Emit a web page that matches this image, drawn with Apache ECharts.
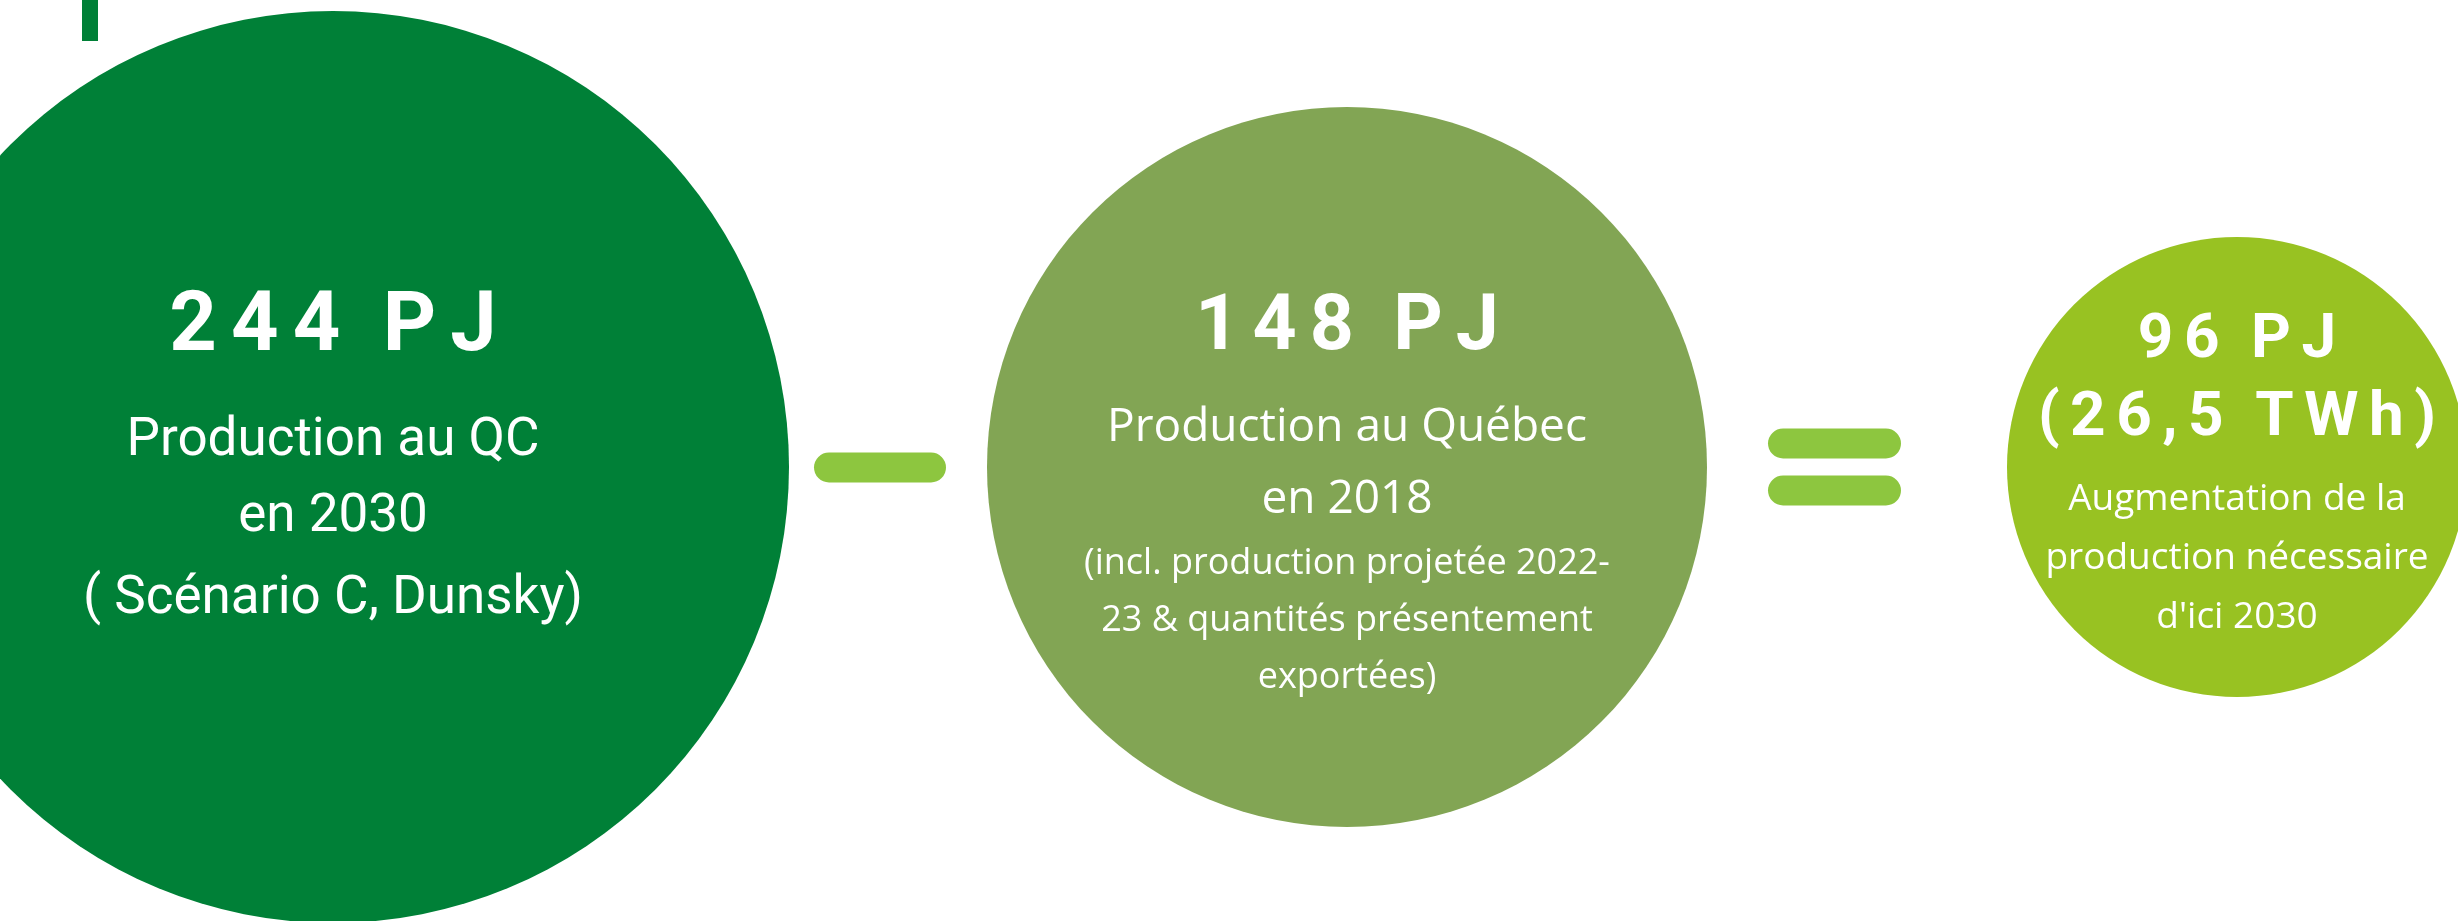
<!DOCTYPE html>
<html>
<head>
<meta charset="utf-8">
<title>Production au Québec</title>
<script src="https://cdn.jsdelivr.net/npm/echarts@6.0.0/dist/echarts.min.js"></script>
<style>
  html, body { margin: 0; padding: 0; background: #fff; }
  #chart { width: 2458px; height: 921px; }
</style>
</head>
<body>
<div id="chart"></div>
<script>
// valeurs (PJ)
const values = [244, 148, 96];
const unit = 'PJ';
const twhValue = 26.5; // augmentation en TWh
const descriptions = [
  ['Production au QC', 'en 2030', '( Scénario C, Dunsky)'],
  ['Production au Québec', 'en 2018'],
  ['Augmentation de la', 'production nécessaire', "d'ici 2030"]
];
const notes = ['(incl. production projetée 2022-', '23 & quantités présentement', 'exportées)'];

// mise en page (pixels, axes = taille du canevas)
const W = 2458, H = 921;
const centerX = [333, 1347, 2237];
const centerY = 467;
const diameters = [912, 720, 460];
const colors = ['#008037', '#82a554', '#98c222'];
const opColor = '#8dc63f';

// espacement des lettres pour les titres
function spaced(s) {
  return s.split(' ').map(w => Array.from(w).join('\u2006')).join('\u2006\u2004');
}

const white = '#ffffff';
const body1 = { fontFamily: 'Roboto', fontSize: 53, color: white };
const body2 = { fontFamily: 'Open Sans', fontSize: 46, color: white };
const labels = [
  {
    offset: [0, -15],
    formatter: [
      '{t|' + spaced(values[0] + ' ' + unit) + '}',
      '{b1|' + descriptions[0][0] + '}',
      '{b2|' + descriptions[0][1] + '}',
      '{b3|' + descriptions[0][2] + '}'
    ].join('\n'),
    rich: {
      t: { fontFamily: 'Roboto', fontWeight: 'bold', fontSize: 83, lineHeight: 143, color: white },
      b1: Object.assign({ lineHeight: 81 }, body1),
      b2: Object.assign({ lineHeight: 71 }, body1),
      b3: Object.assign({ lineHeight: 93 }, body1)
    }
  },
  {
    offset: [0, 20],
    formatter: [
      '{t|' + spaced(values[1] + ' ' + unit) + '}',
      '{b1|' + descriptions[1][0] + '}',
      '{b2|' + descriptions[1][1] + '}'
    ].concat(notes.map(l => '{s|' + l + '}')).join('\n'),
    rich: {
      t: { fontFamily: 'Roboto', fontWeight: 'bold', fontSize: 77, lineHeight: 124, color: white },
      b1: Object.assign({ lineHeight: 73 }, body2),
      b2: Object.assign({ lineHeight: 71 }, body2),
      s: { fontFamily: 'Open Sans', fontSize: 36, lineHeight: 57, color: white }
    }
  },
  {
    offset: [0, 8],
    formatter: [
      '{t|' + spaced(values[2] + ' ' + unit) + '}',
      '{t|' + spaced('(' + String(twhValue).replace('.', ',') + ' TWh)') + '}',
      '{gap| }'
    ].concat(descriptions[2].map(l => '{b|' + l + '}')).join('\n'),
    rich: {
      t: { fontFamily: 'Roboto', fontWeight: 'bold', fontSize: 62, lineHeight: 78, color: white },
      gap: { fontSize: 8, lineHeight: 11.5 },
      b: { fontFamily: 'Open Sans', fontSize: 37, lineHeight: 59, color: white }
    }
  }
];

// signes − et =
const pill = 'path://M15,0 H117 A15,15 0 0 1 117,30 H15 A15,15 0 0 1 15,0 Z';
const operatorMarks = [
  { value: [880, 467.5], symbolSize: [132, 30] },
  { value: [1834.5, 443.5], symbolSize: [133, 30] },
  { value: [1834.5, 490.5], symbolSize: [133, 30] }
];

const chart = echarts.init(document.getElementById('chart'), null, { renderer: 'canvas' });
chart.setOption({
  animation: false,
  backgroundColor: '#ffffff',
  grid: { left: 0, right: 0, top: 0, bottom: 0 },
  xAxis: { type: 'value', min: 0, max: W, show: false },
  yAxis: { type: 'value', min: 0, max: H, inverse: true, show: false },
  graphic: [
    { type: 'rect', left: 82, top: 0, shape: { width: 16, height: 41 }, style: { fill: colors[0] } }
  ],
  series: [
    {
      type: 'scatter',
      name: 'bulles',
      silent: true,
      symbol: 'circle',
      data: values.map((v, i) => ({
        name: descriptions[i][0],
        value: [centerX[i], centerY, v],
        symbolSize: diameters[i],
        itemStyle: { color: colors[i], opacity: 1 },
        label: {
          show: true,
          position: 'inside',
          align: 'center',
          verticalAlign: 'middle',
          offset: labels[i].offset,
          formatter: labels[i].formatter,
          rich: labels[i].rich
        }
      }))
    },
    {
      type: 'scatter',
      name: 'operateurs',
      silent: true,
      symbol: pill,
      itemStyle: { color: opColor, opacity: 1 },
      data: operatorMarks
    }
  ]
});
</script>
</body>
</html>
